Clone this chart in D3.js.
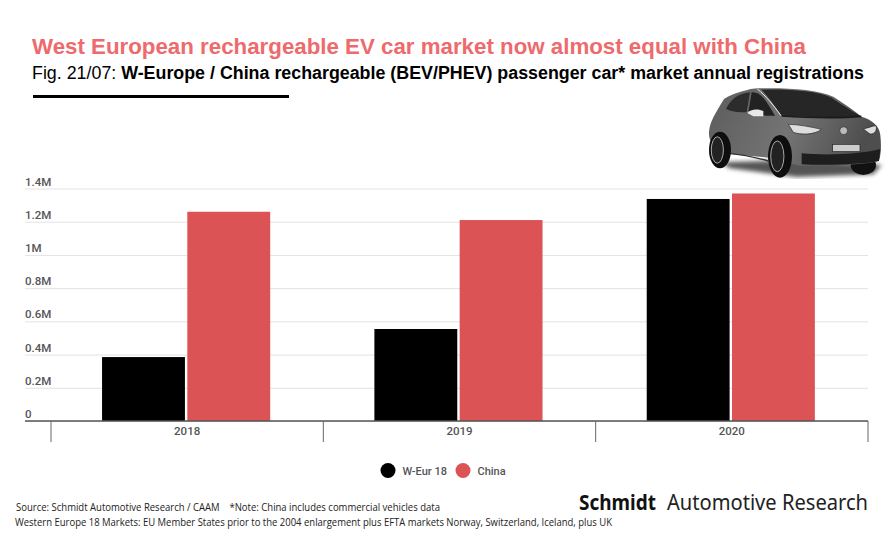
<!DOCTYPE html>
<html>
<head>
<meta charset="utf-8">
<script src="https://cdn.jsdelivr.net/npm/d3@7"></script>
<style>
  html, body { margin: 0; padding: 0; background: #fff; }
  svg { font-family: "Liberation Sans", sans-serif; }
</style>
</head>
<body>
<div id="viz"></div>
<script>
// values, in millions of registrations
const years = ["2018", "2019", "2020"]
const seriesNames = ["W-Eur 18", "China"]
const wEur = [0.385, 0.554, 1.337]
const china = [1.26, 1.21, 1.37]
const yTicks = [0, 0.2, 0.4, 0.6, 0.8, 1, 1.2, 1.4]
const colors = ["#000000", "#dc5356"]

const width = 893
const height = 558

const svg = d3.select("#viz").append("svg")
  .attr("width", width)
  .attr("height", height)
  .style("display", "block")

// headings
svg.append("text").attr("x", 32).attr("y", 54)
  .attr("font-size", 22.5).attr("font-weight", 700).attr("fill", "#ee6a6c")
  .attr("textLength", 774).attr("lengthAdjust", "spacingAndGlyphs")
  .text("West European rechargeable EV car market now almost equal with China")

const sub = svg.append("text").attr("x", 32).attr("y", 79)
  .attr("font-size", 18).attr("fill", "#000")
  .attr("textLength", 832).attr("lengthAdjust", "spacingAndGlyphs")
sub.append("tspan").text("Fig. 21/07: ")
sub.append("tspan").attr("font-weight", 700)
  .text("W-Europe / China rechargeable (BEV/PHEV) passenger car* market annual registrations")

svg.append("rect").attr("x", 33).attr("y", 95).attr("width", 256).attr("height", 3).attr("fill", "#000")

// scales
const x0 = d3.scaleBand().domain(years).range([51, 868])
const x1 = d3.scaleBand().domain(seriesNames).range([0, x0.bandwidth()])
  .paddingInner(0.028).paddingOuter(0.611).align(0.49)
const y = d3.scaleLinear().domain([0, 1.4]).range([421, 188.5])

// grid and y labels
const yAxis = d3.axisLeft(y)
  .tickValues(yTicks)
  .tickSize(-843)
  .tickFormat(d => d === 0 ? "0" : d + "M")

const gy = svg.append("g").attr("transform", "translate(25,0)").call(yAxis)
gy.select(".domain").remove()
gy.selectAll(".tick line").attr("stroke", "#e3e3e3").attr("stroke-width", 1)
gy.selectAll(".tick text")
  .attr("x", 0).attr("dy", -3.5)
  .attr("text-anchor", "start")
  .attr("font-family", "Roboto").attr("font-size", 11.5).attr("font-weight", 500)
  .attr("fill", "#555")

// bars
const rows = years.map((yr, i) => ({ yr, vals: [wEur[i], china[i]] }))

svg.append("g").selectAll("g")
  .data(rows)
  .enter().append("g")
  .attr("transform", d => `translate(${x0(d.yr)},0)`)
  .selectAll("rect")
  .data(d => d.vals.map((v, i) => ({ name: seriesNames[i], v, i })))
  .enter().append("rect")
  .attr("x", d => x1(d.name))
  .attr("y", d => y(d.v))
  .attr("width", x1.bandwidth())
  .attr("height", d => y(0) - y(d.v))
  .attr("fill", d => colors[d.i])

// x axis, ticks sit on the band edges
const edges = years.map(d => x0(d)).concat([x0.range()[1]])
const ax = svg.append("g")
ax.append("line").attr("x1", 25).attr("x2", 868).attr("y1", 421).attr("y2", 421)
  .attr("stroke", "#555").attr("stroke-width", 1.6)
ax.selectAll("line.edge").data(edges).enter().append("line")
  .attr("class", "edge")
  .attr("x1", d => d).attr("x2", d => d)
  .attr("y1", 421).attr("y2", 442)
  .attr("stroke", "#666").attr("stroke-width", 1)
ax.selectAll("text").data(years).enter().append("text")
  .attr("x", d => x0(d) + x0.bandwidth() / 2)
  .attr("y", 435)
  .attr("text-anchor", "middle")
  .attr("font-family", "Roboto").attr("font-size", 11.5).attr("font-weight", 500)
  .attr("fill", "#555")
  .text(d => d)

// legend
const legendX = [388, 463]
const legend = svg.append("g").selectAll("g").data(seriesNames).enter().append("g")
legend.append("circle")
  .attr("cx", (d, i) => legendX[i]).attr("cy", 470.5).attr("r", 7.5)
  .attr("fill", (d, i) => colors[i])
legend.append("text")
  .attr("x", (d, i) => legendX[i] + 14.5).attr("y", 474.5)
  .attr("font-family", "Roboto").attr("font-size", 11).attr("font-weight", 500)
  .attr("fill", "#555")
  .text(d => d)

// footer
svg.append("text").attr("x", 16).attr("y", 511)
  .attr("font-family", "Open Sans").attr("font-size", 10.5).attr("fill", "#222")
  .attr("textLength", 424).attr("lengthAdjust", "spacingAndGlyphs")
  .style("white-space", "pre")
  .text("Source: Schmidt Automotive Research / CAAM    *Note: China includes commercial vehicles data")
svg.append("text").attr("x", 15).attr("y", 526)
  .attr("font-family", "Open Sans").attr("font-size", 10.5).attr("fill", "#222")
  .attr("textLength", 597).attr("lengthAdjust", "spacingAndGlyphs")
  .text("Western Europe 18 Markets: EU Member States prior to the 2004 enlargement plus EFTA markets Norway, Switzerland, Iceland, plus UK")

svg.append("text").attr("x", 579).attr("y", 510)
  .attr("font-family", "Noto Sans").attr("font-size", 21).attr("font-weight", 700).attr("fill", "#111")
  .attr("textLength", 77).attr("lengthAdjust", "spacingAndGlyphs")
  .text("Schmidt")
svg.append("text").attr("x", 667).attr("y", 510)
  .attr("font-family", "Noto Sans").attr("font-size", 21).attr("fill", "#222")
  .attr("textLength", 201).attr("lengthAdjust", "spacingAndGlyphs")
  .text("Automotive Research")

// car picture, rough sketch, coordinates as in a 3x crop starting at 700,85
const car = svg.append("g").attr("transform", "translate(700,85) scale(0.3333)")
const defs = svg.append("defs")
const grad = defs.append("linearGradient").attr("id", "body").attr("x1", 0).attr("x2", 1).attr("y1", 0).attr("y2", 0.2)
grad.append("stop").attr("offset", "0").attr("stop-color", "#5c5c5c")
grad.append("stop").attr("offset", "0.55").attr("stop-color", "#747474")
grad.append("stop").attr("offset", "1").attr("stop-color", "#4e4e4e")
const blur = defs.append("filter").attr("id", "soft")
blur.append("feGaussianBlur").attr("stdDeviation", 6)

car.append("path").attr("fill", "#555").attr("filter", "url(#soft)")
  .attr("d", "M60,232 L300,225 L545,240 L520,268 L290,276 L90,250 Z")
// far wheel goes under the body
car.append("ellipse").attr("cx", 490).attr("cy", 240).attr("rx", 38).attr("ry", 30).attr("fill", "#111")
// body
car.append("path").attr("fill", "url(#body)")
  .attr("d", "M27,140 C30,108 45,88 72,42 C100,25 150,10 175,10 C260,8 350,12 400,35 C430,55 470,82 485,95 C515,105 538,120 541,150 C545,185 542,220 535,228 C500,238 440,240 380,242 L300,242 L205,218 L100,208 L62,205 C40,190 25,165 27,140 Z")
// windows
car.append("path").attr("fill", "#262626")
  .attr("d", "M185,14 C260,12 350,16 395,38 C420,55 445,72 480,92 C420,100 320,96 245,92 C225,65 205,35 185,14 Z")
car.append("path").attr("fill", "#2c2c2c")
  .attr("d", "M78,72 C90,45 115,25 150,22 L140,82 C115,82 95,80 78,72 Z")
car.append("path").attr("fill", "#222")
  .attr("d", "M155,22 C180,20 195,40 225,92 L195,92 C180,85 160,82 145,82 Z")
car.append("path").attr("fill", "none").attr("stroke", "#eee").attr("stroke-width", 3)
  .attr("d", "M172,12 C195,30 220,60 243,92")
car.append("path").attr("fill", "#e8e8e8").attr("d", "M142,84 C150,72 175,70 190,78 L190,94 L160,94 Z")
// hood line, lights, grille, plate
car.append("path").attr("fill", "none").attr("stroke", "#1a1a1a").attr("stroke-width", 5)
  .attr("d", "M245,93 C320,98 420,100 484,94")
car.append("path").attr("fill", "#ddd").attr("stroke", "#222").attr("stroke-width", 2)
  .attr("d", "M265,118 C295,118 335,126 364,133 C345,150 300,150 280,142 Z")
car.append("path").attr("fill", "#ddd").attr("stroke", "#222").attr("stroke-width", 2)
  .attr("d", "M490,132 C505,128 522,122 528,122 C532,135 525,148 510,147 Z")
car.append("circle").attr("cx", 431).attr("cy", 137).attr("r", 12).attr("fill", "#bbb").attr("stroke", "#222").attr("stroke-width", 2)
car.append("path").attr("fill", "#1e1e1e")
  .attr("d", "M305,205 C380,212 480,208 541,192 L537,228 C480,238 380,242 305,238 Z")
car.append("rect").attr("x", 398).attr("y", 178).attr("width", 82).attr("height", 22).attr("fill", "#ccc").attr("stroke", "#222").attr("stroke-width", 2)
car.append("path").attr("fill", "none").attr("stroke", "#333").attr("stroke-width", 4)
  .attr("d", "M85,205 C120,208 170,218 205,228")
// near wheels
const wheels = [[60, 195, 33, 55], [240, 214, 36, 64]]
car.selectAll("ellipse.w").data(wheels).enter().append("ellipse")
  .attr("class", "w")
  .attr("cx", d => d[0]).attr("cy", d => d[1]).attr("rx", d => d[2]).attr("ry", d => d[3])
  .attr("fill", "#0e0e0e")
car.selectAll("ellipse.r").data(wheels).enter().append("ellipse")
  .attr("class", "r")
  .attr("cx", d => d[0] - 8).attr("cy", d => d[1]).attr("rx", d => d[2] * 0.55).attr("ry", d => d[3] * 0.72)
  .attr("fill", "#222").attr("stroke", "#aaa").attr("stroke-width", 3)
</script>
</body>
</html>
